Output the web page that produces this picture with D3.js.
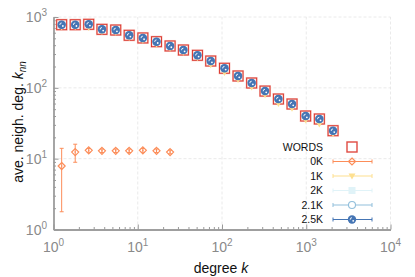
<!DOCTYPE html>
<html>
<head>
<meta charset="utf-8">
<script src="https://cdn.jsdelivr.net/npm/d3@7"></script>
<style>
  body { margin: 0; background: #fff; }
  svg { font-family: "Liberation Sans", Arial, sans-serif; }
</style>
</head>
<body>
<div id="chart"></div>
<script>
// degree bins (log-spaced)
const degrees = [1.25, 1.81, 2.62, 3.76, 5.48, 7.91, 11.5, 16.7, 24.2, 34.8, 51.1,
                 73.5, 107, 155, 225, 324, 467, 678, 984, 1430, 2080];

// average neighbour degree per series
const words = [778, 778, 789, 670, 655, 552, 506, 448, 390, 342, 288,
               239, 189, 147, 117, 90, 69.5, 59.1, 40.0, 36.3, 24.8];
const k25 = [778, 778, 789, 670, 655, 552, 506, 448, 390, 342, 288,
             239, 189, 147, 117, 90, 69.5, 59.1, 40.0, 36.3, 24.8];
const k21 = [778, 778, 789, 670, 655, 552, 506, 448, 390, 342, 288,
             239, 189, 147, 117, 90, 69.5, 59.1, 40.0, 36.3, 24.8];
const k2 = [778, 778, 789, 670, 655, 552, 506, 448, 390, 342, 288,
            239, 189, 147, 117, 90, 69.5, 59.1, 40.0, 36.3, 24.8];
const k1 = [770, 775, 760, 665, 650, 548, 500, 440, 385, 338, 284,
            226, 175, 140, 110, 85, 64, 55, 37.5, 33, 24];

// 0K only spans the first bins, with error bars
const k0 = [7.87, 12.4, 13.1, 12.9, 12.9, 12.9, 13.1, 12.9, 12.4];
const k0Lo = [1.78, 8.9, 12.3, 12.2, 12.2, 12.2, 12.3, 12.2, 11.7];
const k0Hi = [14.0, 16.0, 13.9, 13.7, 13.7, 13.7, 13.9, 13.7, 13.2];

const legendLabels = ['WORDS', '0K', '1K', '2K', '2.1K', '2.5K'];
const colors = ['#d73027', '#fc8d59', '#fee090', '#e0f3f8', '#91bfdb', '#4575b4'];

const xTicks = [1, 10, 100, 1000, 10000];
const yTicks = [1, 10, 100, 1000];

const width = 415, height = 277;
const svg = d3.select('#chart').append('svg')
    .attr('width', width).attr('height', height);

const x = d3.scaleLog().domain([1, 1e4]).range([53.5, 390.5]);
const y = d3.scaleLog().domain([1, 1e3]).range([229.5, 17]);

// minor tick values
const minorX = [];
for (let d = 1; d < 1e4; d *= 10) for (let m = 2; m <= 9; m++) minorX.push(d * m);
const minorY = [];
for (let d = 1; d < 1e3; d *= 10) for (let m = 2; m <= 9; m++) minorY.push(d * m);

// grid
const grid = svg.append('g').attr('stroke', '#e4e4e4').attr('stroke-dasharray', '3,2')
    .attr('stroke-width', 0.8);
xTicks.slice(1).forEach(t => grid.append('line')
    .attr('x1', x(t)).attr('x2', x(t)).attr('y1', y(1)).attr('y2', y(1000)));
yTicks.slice(1).forEach(t => grid.append('line')
    .attr('x1', x(1)).attr('x2', x(1e4)).attr('y1', y(t)).attr('y2', y(t)));

// axes (ticks inward)
const axisColor = '#999';
function styleAxis(g) {
    g.select('.domain').attr('stroke', axisColor).attr('stroke-width', 1.3);
    g.selectAll('.tick line').attr('stroke', axisColor);
    g.selectAll('.tick text').remove();
}
svg.append('g').attr('transform', `translate(0,${y(1)})`)
    .call(d3.axisBottom(x).tickValues(xTicks).tickSize(-5).tickSizeOuter(0).tickFormat(''))
    .call(styleAxis);
svg.append('g').attr('transform', `translate(0,${y(1)})`)
    .call(d3.axisBottom(x).tickValues(minorX).tickSize(-2.5).tickSizeOuter(0).tickFormat(''))
    .call(styleAxis);
svg.append('g').attr('transform', `translate(${x(1)},0)`)
    .call(d3.axisLeft(y).tickValues(yTicks).tickSize(-5).tickSizeOuter(0).tickFormat(''))
    .call(styleAxis);
svg.append('g').attr('transform', `translate(${x(1)},0)`)
    .call(d3.axisLeft(y).tickValues(minorY).tickSize(-2.5).tickSizeOuter(0).tickFormat(''))
    .call(styleAxis);

// tick labels 10^n
const labColor = '#8a8a8a';
function powLabel(sel, exp) {
    sel.append('tspan').text('10');
    sel.append('tspan').attr('font-size', 10).attr('dy', -6).text(exp);
}
xTicks.forEach(t => {
    const tx = svg.append('text').attr('x', x(t)).attr('y', 252)
        .attr('text-anchor', 'middle').attr('font-size', 14).attr('fill', labColor);
    powLabel(tx, Math.round(Math.log10(t)));
});
yTicks.forEach(t => {
    const tx = svg.append('text').attr('x', 47).attr('y', y(t) + 5)
        .attr('text-anchor', 'end').attr('font-size', 14).attr('fill', labColor);
    powLabel(tx, Math.round(Math.log10(t)));
});

// axis titles
const xl = svg.append('text').attr('x', 221).attr('y', 273).attr('text-anchor', 'middle')
    .attr('font-size', 14).attr('fill', '#111');
xl.append('tspan').text('degree ');
xl.append('tspan').attr('font-style', 'italic').text('k');

const yl = svg.append('text').attr('transform', 'translate(23,122) rotate(-90)')
    .attr('text-anchor', 'middle').attr('font-size', 14).attr('fill', '#111');
yl.append('tspan').text('ave. neigh. deg. ');
yl.append('tspan').attr('font-style', 'italic').text('k');
yl.append('tspan').attr('font-style', 'italic').attr('font-size', 10).attr('dy', 3).text('nn');

// marker drawing helpers
function drawMarker(g, type, cx, cy) {
    if (type === 'WORDS') {
        g.append('rect').attr('x', cx - 5).attr('y', cy - 5).attr('width', 10).attr('height', 10)
            .attr('fill', 'none').attr('stroke', '#f8c4bf').attr('stroke-width', 2);
        g.append('rect').attr('x', cx - 5).attr('y', cy - 5).attr('width', 10).attr('height', 10)
            .attr('fill', 'none').attr('stroke', colors[0]).attr('stroke-width', 0.9);
    } else if (type === '0K') {
        g.append('path').attr('d', `M${cx},${cy - 3.5}L${cx + 3.5},${cy}L${cx},${cy + 3.5}L${cx - 3.5},${cy}Z`)
            .attr('fill', 'none').attr('stroke', colors[1]).attr('stroke-width', 1.2);
        g.append('circle').attr('cx', cx).attr('cy', cy).attr('r', 0.8).attr('fill', colors[1]);
    } else if (type === '1K') {
        g.append('path').attr('d', `M${cx - 3.5},${cy - 2.5}L${cx + 3.5},${cy - 2.5}L${cx},${cy + 3.5}Z`)
            .attr('fill', colors[2]);
    } else if (type === '2K') {
        g.append('rect').attr('x', cx - 3.5).attr('y', cy - 3.5).attr('width', 7).attr('height', 7)
            .attr('fill', colors[3]);
    } else if (type === '2.1K') {
        g.append('circle').attr('cx', cx).attr('cy', cy).attr('r', 3.5)
            .attr('fill', '#fff').attr('stroke', colors[4]).attr('stroke-width', 1.1);
    } else if (type === '2.5K') {
        g.append('circle').attr('cx', cx).attr('cy', cy).attr('r', 4.2).attr('fill', colors[5]);
        g.append('path').attr('d', `M${cx - 1.8},${cy + 0.2}A1.8,1.8 0 0 1 ${cx},${cy - 1.8}`)
            .attr('fill', 'none').attr('stroke', '#fff').attr('stroke-width', 0.9);
        g.append('circle').attr('cx', cx + 1.2).attr('cy', cy + 1.3).attr('r', 0.9).attr('fill', '#fff');
    }
}

// series points
const pts = svg.append('g');
degrees.forEach((d, i) => drawMarker(pts, 'WORDS', x(d), y(words[i])));
degrees.forEach((d, i) => drawMarker(pts, '1K', x(d), y(k1[i]) + 2));
degrees.forEach((d, i) => drawMarker(pts, '2K', x(d), y(k2[i])));
degrees.forEach((d, i) => drawMarker(pts, '2.1K', x(d), y(k21[i])));
degrees.forEach((d, i) => drawMarker(pts, '2.5K', x(d), y(k25[i])));

// 0K with error bars
const e0 = svg.append('g');
k0.forEach((v, i) => {
    const cx = x(degrees[i]);
    e0.append('line').attr('x1', cx).attr('x2', cx).attr('y1', y(k0Lo[i])).attr('y2', y(k0Hi[i]))
        .attr('stroke', colors[1]).attr('stroke-width', 1);
    [k0Lo[i], k0Hi[i]].forEach(b => e0.append('line')
        .attr('x1', cx - 2).attr('x2', cx + 2).attr('y1', y(b)).attr('y2', y(b))
        .attr('stroke', colors[1]).attr('stroke-width', 1));
    drawMarker(e0, '0K', cx, y(v));
});

// legend
const leg = svg.append('g');
legendLabels.forEach((lab, i) => {
    const ly = 147 + i * 14.5;
    leg.append('text').attr('x', 323).attr('y', ly + 3.5).attr('text-anchor', 'end')
        .attr('font-size', 10.5).attr('fill', '#111').text(lab);
    if (i > 0) {
        leg.append('line').attr('x1', 333).attr('x2', 372).attr('y1', ly).attr('y2', ly)
            .attr('stroke', colors[i]).attr('stroke-width', 1.1);
        [333, 372].forEach(ex => leg.append('line').attr('x1', ex).attr('x2', ex)
            .attr('y1', ly - 2).attr('y2', ly + 2).attr('stroke', colors[i]).attr('stroke-width', 1));
    }
    drawMarker(leg, lab, 352, ly);
});
</script>
</body>
</html>
